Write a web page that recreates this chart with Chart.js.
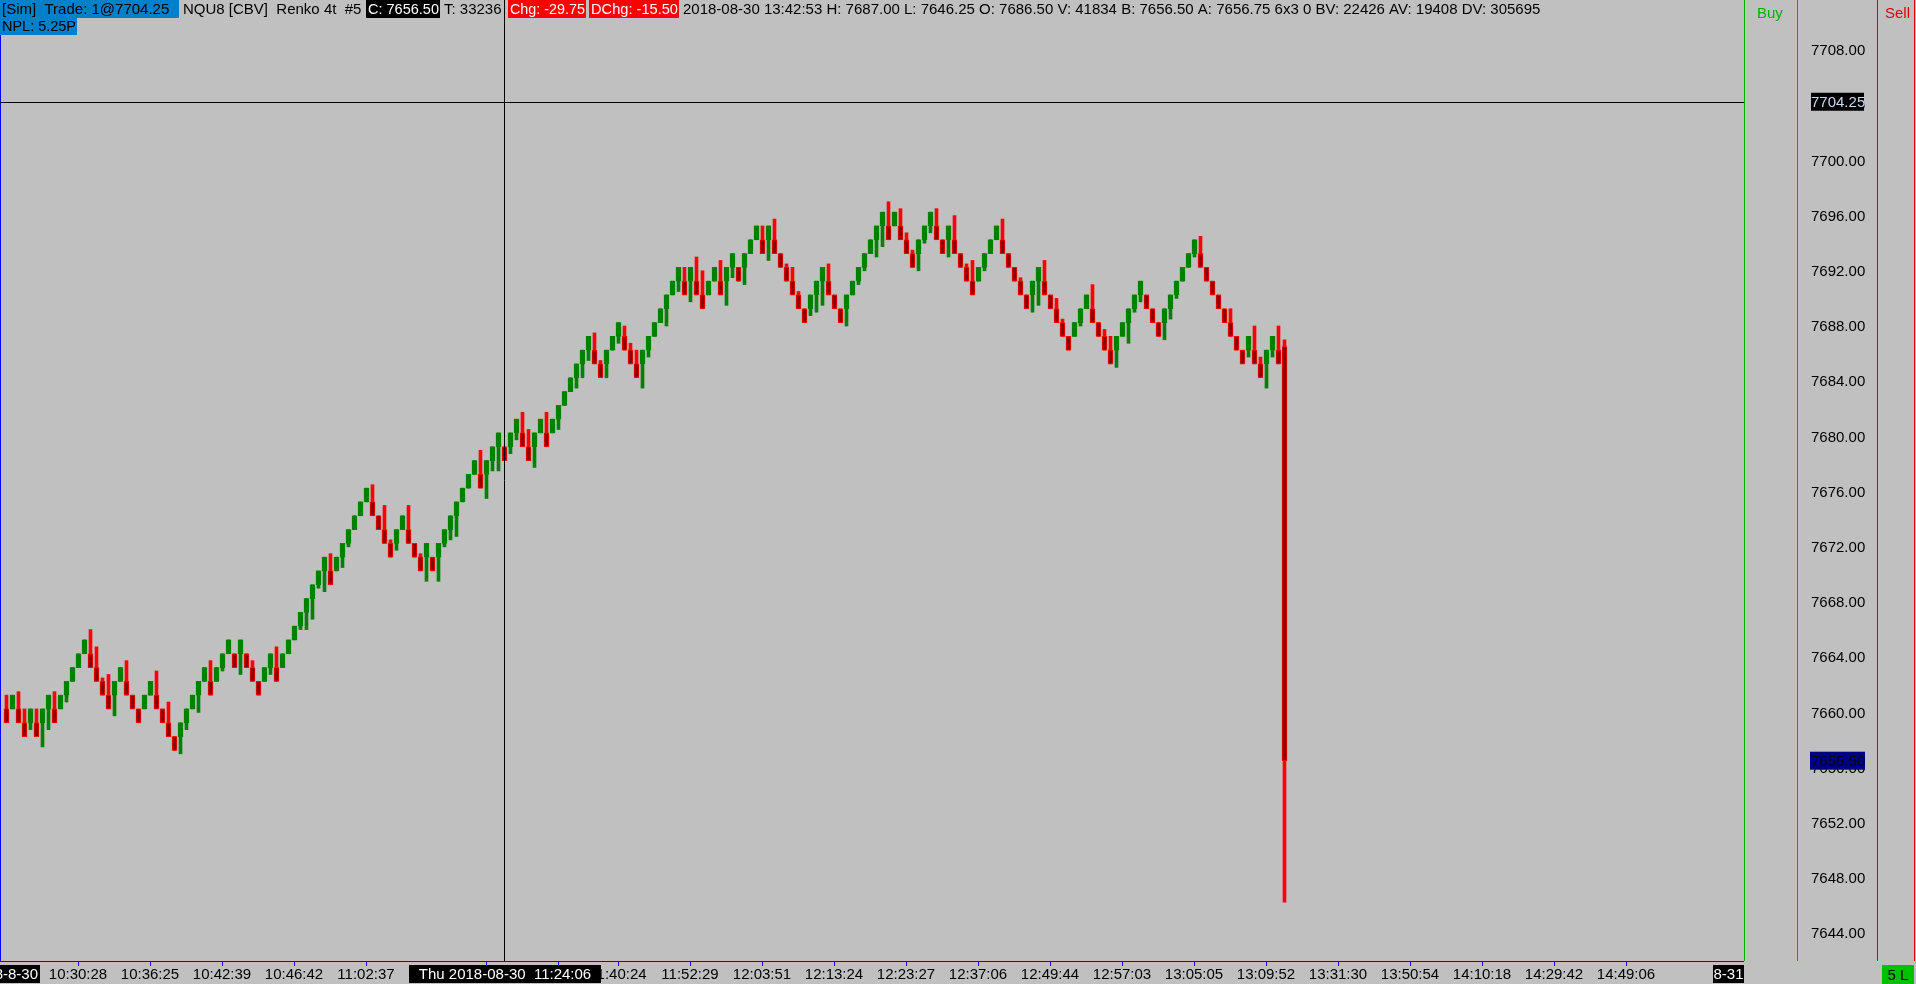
<!DOCTYPE html>
<html>
<head>
<meta charset="utf-8">
<title>NQU8 Renko 4t</title>
<script src="https://cdn.jsdelivr.net/npm/chart.js@4"></script>
<style>
  html, body { margin: 0; padding: 0; background: #c0c0c0; overflow: hidden; }
  canvas { display: block; }
</style>
</head>
<body>
<canvas id="myChart" width="1916" height="984"></canvas>
<script>
"use strict";

// Renko 4t bricks (oldest first)
const opens = [
  7660.25, 7660.25, 7660.25, 7659.25, 7659.25, 7659.25, 7659.25, 7660.25, 7660.25, 7660.25,
  7661.25, 7662.25, 7663.25, 7664.25, 7664.25, 7663.25, 7662.25, 7661.25, 7661.25, 7662.25,
  7662.25, 7661.25, 7660.25, 7660.25, 7661.25, 7661.25, 7660.25, 7659.25, 7658.25, 7658.25,
  7659.25, 7660.25, 7661.25, 7662.25, 7662.25, 7662.25, 7663.25, 7664.25, 7664.25, 7664.25,
  7664.25, 7663.25, 7662.25, 7662.25, 7663.25, 7663.25, 7663.25, 7664.25, 7665.25, 7666.25,
  7667.25, 7668.25, 7669.25, 7670.25, 7670.25, 7670.25, 7671.25, 7672.25, 7673.25, 7674.25,
  7675.25, 7675.25, 7674.25, 7673.25, 7672.25, 7672.25, 7673.25, 7673.25, 7672.25, 7671.25,
  7671.25, 7671.25, 7671.25, 7672.25, 7673.25, 7674.25, 7675.25, 7676.25, 7677.25, 7677.25,
  7677.25, 7678.25, 7679.25, 7679.25, 7679.25, 7680.25, 7680.25, 7679.25, 7679.25, 7680.25,
  7680.25, 7680.25, 7681.25, 7682.25, 7683.25, 7684.25, 7685.25, 7686.25, 7686.25, 7685.25,
  7685.25, 7686.25, 7687.25, 7687.25, 7686.25, 7685.25, 7685.25, 7686.25, 7687.25, 7688.25,
  7689.25, 7690.25, 7691.25, 7691.25, 7691.25, 7691.25, 7690.25, 7690.25, 7691.25, 7691.25,
  7691.25, 7692.25, 7692.25, 7692.25, 7693.25, 7694.25, 7694.25, 7694.25, 7694.25, 7693.25,
  7692.25, 7691.25, 7690.25, 7689.25, 7689.25, 7690.25, 7691.25, 7691.25, 7690.25, 7689.25,
  7689.25, 7690.25, 7691.25, 7692.25, 7693.25, 7694.25, 7695.25, 7695.25, 7695.25, 7695.25,
  7694.25, 7693.25, 7693.25, 7694.25, 7695.25, 7695.25, 7694.25, 7694.25, 7694.25, 7693.25,
  7692.25, 7691.25, 7691.25, 7692.25, 7693.25, 7694.25, 7694.25, 7693.25, 7692.25, 7691.25,
  7690.25, 7690.25, 7691.25, 7691.25, 7690.25, 7689.25, 7688.25, 7687.25, 7687.25, 7688.25,
  7689.25, 7689.25, 7688.25, 7687.25, 7686.25, 7686.25, 7687.25, 7688.25, 7689.25, 7690.25,
  7690.25, 7689.25, 7688.25, 7688.25, 7689.25, 7690.25, 7691.25, 7692.25, 7693.25, 7693.25,
  7692.25, 7691.25, 7690.25, 7689.25, 7688.25, 7687.25, 7686.25, 7686.25, 7686.25, 7685.25,
  7685.25, 7686.25, 7686.25, 7686.50
];
const closes = [
  7659.25, 7661.25, 7659.25, 7658.25, 7660.25, 7658.25, 7660.25, 7661.25, 7659.25, 7661.25,
  7662.25, 7663.25, 7664.25, 7665.25, 7663.25, 7662.25, 7661.25, 7660.25, 7662.25, 7663.25,
  7661.25, 7660.25, 7659.25, 7661.25, 7662.25, 7660.25, 7659.25, 7658.25, 7657.25, 7659.25,
  7660.25, 7661.25, 7662.25, 7663.25, 7661.25, 7663.25, 7664.25, 7665.25, 7663.25, 7665.25,
  7663.25, 7662.25, 7661.25, 7663.25, 7664.25, 7662.25, 7664.25, 7665.25, 7666.25, 7667.25,
  7668.25, 7669.25, 7670.25, 7671.25, 7669.25, 7671.25, 7672.25, 7673.25, 7674.25, 7675.25,
  7676.25, 7674.25, 7673.25, 7672.25, 7671.25, 7673.25, 7674.25, 7672.25, 7671.25, 7670.25,
  7672.25, 7670.25, 7672.25, 7673.25, 7674.25, 7675.25, 7676.25, 7677.25, 7678.25, 7676.25,
  7678.25, 7679.25, 7680.25, 7678.25, 7680.25, 7681.25, 7679.25, 7678.25, 7680.25, 7681.25,
  7679.25, 7681.25, 7682.25, 7683.25, 7684.25, 7685.25, 7686.25, 7687.25, 7685.25, 7684.25,
  7686.25, 7687.25, 7688.25, 7686.25, 7685.25, 7684.25, 7686.25, 7687.25, 7688.25, 7689.25,
  7690.25, 7691.25, 7692.25, 7690.25, 7692.25, 7690.25, 7689.25, 7691.25, 7692.25, 7690.25,
  7692.25, 7693.25, 7691.25, 7693.25, 7694.25, 7695.25, 7693.25, 7695.25, 7693.25, 7692.25,
  7691.25, 7690.25, 7689.25, 7688.25, 7690.25, 7691.25, 7692.25, 7690.25, 7689.25, 7688.25,
  7690.25, 7691.25, 7692.25, 7693.25, 7694.25, 7695.25, 7696.25, 7694.25, 7696.25, 7694.25,
  7693.25, 7692.25, 7694.25, 7695.25, 7696.25, 7694.25, 7693.25, 7695.25, 7693.25, 7692.25,
  7691.25, 7690.25, 7692.25, 7693.25, 7694.25, 7695.25, 7693.25, 7692.25, 7691.25, 7690.25,
  7689.25, 7691.25, 7692.25, 7690.25, 7689.25, 7688.25, 7687.25, 7686.25, 7688.25, 7689.25,
  7690.25, 7688.25, 7687.25, 7686.25, 7685.25, 7687.25, 7688.25, 7689.25, 7690.25, 7691.25,
  7689.25, 7688.25, 7687.25, 7689.25, 7690.25, 7691.25, 7692.25, 7693.25, 7694.25, 7692.25,
  7691.25, 7690.25, 7689.25, 7688.25, 7687.25, 7686.25, 7685.25, 7687.25, 7685.25, 7684.25,
  7686.25, 7687.25, 7685.25, 7656.50
];
const highs = [
  7661.25, 7661.25, 7661.5, 7660.25, 7660.25, 7660.25, 7660.25, 7661.25, 7661.5, 7661.25,
  7662.25, 7663.25, 7664.25, 7665.25, 7666, 7664.75, 7662.5, 7662.75, 7662.25, 7663.25,
  7663.75, 7661.25, 7660.25, 7661.25, 7662.25, 7663, 7660.25, 7660.75, 7658.25, 7659.25,
  7660.25, 7661.25, 7662.25, 7663.25, 7663.75, 7663.25, 7664.25, 7665.25, 7664.25, 7665.25,
  7664.25, 7663.75, 7662.25, 7663.25, 7664.25, 7664.75, 7664.25, 7665.25, 7666.25, 7667.25,
  7668.25, 7669.25, 7670.25, 7671.25, 7671.5, 7671.25, 7672.25, 7673.25, 7674.25, 7675.25,
  7676.25, 7676.5, 7674.25, 7675, 7672.5, 7673.25, 7674.25, 7675, 7672.25, 7671.5,
  7672.25, 7671.25, 7672.25, 7673.25, 7674.25, 7675.25, 7676.25, 7677.25, 7678.25, 7679,
  7678.25, 7679.25, 7680.25, 7679.25, 7680.25, 7681.25, 7681.75, 7680.5, 7680.25, 7681.25,
  7681.75, 7681.25, 7682.25, 7683.25, 7684.25, 7685.25, 7686.25, 7687.25, 7687.5, 7685.5,
  7686.25, 7687.25, 7688.25, 7688, 7686.75, 7686.25, 7686.25, 7687.25, 7688.25, 7689.25,
  7690.25, 7691.25, 7692.25, 7692.25, 7692.25, 7693, 7692, 7691.25, 7692.25, 7692.75,
  7692.25, 7693.25, 7692.25, 7693.25, 7694.25, 7695.25, 7695.25, 7695.25, 7695.75, 7693.25,
  7692.5, 7692.25, 7690.5, 7689.25, 7690.25, 7691.25, 7692.25, 7692.5, 7690.25, 7689.25,
  7690.25, 7691.25, 7692.25, 7693.25, 7694.25, 7695.25, 7696.25, 7697, 7696.25, 7696.5,
  7694.75, 7693.5, 7694.25, 7695.25, 7696.25, 7696.5, 7694.25, 7695.25, 7696, 7693.25,
  7692.5, 7692.75, 7692.25, 7693.25, 7694.25, 7695.25, 7695.75, 7693.25, 7692.25, 7691.5,
  7690.25, 7691.25, 7692.25, 7692.75, 7690.25, 7690, 7688.5, 7687.25, 7688.25, 7689.25,
  7690.25, 7691, 7688.25, 7687.75, 7687.25, 7687.25, 7688.25, 7689.25, 7690.25, 7691.25,
  7690.25, 7689.25, 7688.25, 7689.25, 7690.25, 7691.25, 7692.25, 7693.25, 7694.25, 7694.5,
  7692.25, 7691.25, 7690.25, 7689.25, 7689.25, 7687.25, 7686.25, 7687.25, 7688, 7685.75,
  7686.25, 7687.25, 7688, 7687
];
const lows = [
  7659.25, 7660.25, 7659.25, 7658.25, 7658.75, 7658.25, 7657.5, 7658.75, 7659.25, 7660.25,
  7660.75, 7662.25, 7663.25, 7664.25, 7663.25, 7662.25, 7661.25, 7660.25, 7659.75, 7662.25,
  7661.25, 7660.25, 7659.25, 7660.25, 7661.25, 7660.25, 7659.25, 7658.25, 7657.25, 7657,
  7658.75, 7660.25, 7660, 7662.25, 7661.25, 7662.25, 7663, 7664.25, 7663.25, 7662.75,
  7663.25, 7662.25, 7661.25, 7662.25, 7662.75, 7662.25, 7663.25, 7664.25, 7665.25, 7666,
  7666, 7666.75, 7669, 7668.75, 7669.25, 7670.25, 7670.5, 7672, 7673.25, 7674.25,
  7675.25, 7674.25, 7673.25, 7672.25, 7671.25, 7671.75, 7673.25, 7672.25, 7671.25, 7670.25,
  7669.5, 7670.25, 7669.5, 7672, 7672.5, 7672.75, 7675.25, 7676.25, 7677.25, 7676.25,
  7675.5, 7677.5, 7677.5, 7678.25, 7678.75, 7679.75, 7679.25, 7678.25, 7677.75, 7680.25,
  7679.25, 7680.25, 7680.5, 7682.25, 7683.25, 7683.5, 7684.25, 7685.5, 7685.25, 7684.25,
  7684.25, 7686.25, 7686.75, 7686.25, 7685.25, 7684.25, 7683.5, 7685.75, 7687.25, 7688.25,
  7688, 7690.25, 7690.5, 7690.25, 7689.75, 7690.25, 7689.25, 7690.25, 7691.25, 7690.25,
  7689.5, 7691.5, 7691.25, 7691, 7693.25, 7694.25, 7693.25, 7692.75, 7693.25, 7692.25,
  7691.25, 7690.25, 7689.25, 7688.25, 7688.75, 7689, 7689.5, 7690.25, 7689.25, 7688.25,
  7688, 7690.25, 7691, 7692, 7693.25, 7693, 7693.75, 7694.25, 7695.25, 7694.25,
  7693.25, 7692.25, 7692, 7694, 7694.75, 7694.25, 7693.25, 7693, 7693.25, 7692.25,
  7691.25, 7690.25, 7691.25, 7692, 7693.25, 7694.25, 7693.25, 7692.25, 7691.25, 7690.25,
  7689.25, 7689, 7689.5, 7690.25, 7689.25, 7688.25, 7687.25, 7686.25, 7687.25, 7688,
  7689.25, 7688.25, 7687.25, 7686.25, 7685.25, 7685, 7687.25, 7686.75, 7689, 7689.75,
  7689.25, 7688.25, 7687.25, 7687, 7688.5, 7690, 7691.25, 7692.25, 7693, 7692.25,
  7691.25, 7690.25, 7689.25, 7688.25, 7687.25, 7686.25, 7685.25, 7685.75, 7685.25, 7684.25,
  7683.5, 7685.75, 7685.25, 7646.25
];

// time axis labels and the bar they sit under
const timeLabels = ['10:30:28', '10:36:25', '10:42:39', '10:46:42', '11:02:37', '', '',
  '11:40:24', '11:52:29', '12:03:51', '12:13:24', '12:23:27', '12:37:06', '12:49:44',
  '12:57:03', '13:05:05', '13:09:52', '13:31:30', '13:50:54', '14:10:18', '14:29:42', '14:49:06'];
const timeBars = [12, 24, 36, 48, 60, 80, 92, 102, 114, 126, 138, 150, 162, 174, 186, 198,
  210, 222, 234, 246, 258, 270];

// price axis
const priceTicks = [7708, 7704, 7700, 7696, 7692, 7688, 7684, 7680, 7676, 7672, 7668,
  7664, 7660, 7656, 7652, 7648, 7644];
const crossPrice = 7704.25;
const crossBar = 83;
const lastPrice = 7656.50;

const GREEN = '#008000';
const RED = '#ff0000';
const DARKRED = '#8b0000';
const FONT = '15px "Liberation Sans", Arial, sans-serif';

const isUp = opens.map((o, i) => closes[i] > o);

const overlay = {
  id: 'overlay',
  afterDraw(chart) {
    const ctx = chart.ctx;
    const xs = chart.scales.x;
    const ys = chart.scales.y;
    const area = chart.chartArea;
    ctx.save();
    ctx.font = FONT;
    ctx.textBaseline = 'middle';

    // left blue edge + bottom blue axis
    ctx.fillStyle = '#0000ff';
    ctx.fillRect(0, 0, 1, area.bottom);
    ctx.fillRect(0, area.bottom, area.right, 1);

    // time ticks and labels
    timeBars.forEach((b, k) => {
      const x = Math.floor(xs.getPixelForValue(b));
      ctx.fillStyle = '#0000ff';
      ctx.fillRect(x, area.bottom + 1, 1, 4);
      ctx.fillStyle = '#000';
      ctx.textAlign = 'center';
      if (timeLabels[k]) ctx.fillText(timeLabels[k], x, area.bottom + 14);
    });

    // crosshair
    const cx = Math.floor(xs.getPixelForValue(crossBar)) + 0.5;
    const cy = Math.round(ys.getPixelForValue(crossPrice)) + 0.5;
    ctx.strokeStyle = '#000';
    ctx.lineWidth = 1;
    ctx.beginPath();
    ctx.moveTo(area.left, cy); ctx.lineTo(area.right, cy);
    ctx.moveTo(cx, 0); ctx.lineTo(cx, area.bottom);
    ctx.stroke();

    // boxes on the time axis
    const box = (txt, x, y, w, h, bg, fg, align) => {
      ctx.fillStyle = bg;
      ctx.fillRect(x, y, w, h);
      ctx.fillStyle = fg;
      ctx.textAlign = align || 'center';
      const tx = align === 'right' ? x + w - 2 : (align === 'left' ? x + 3 : x + w / 2);
      ctx.fillText(txt, tx, y + h / 2 + 1);
    };
    ctx.save();
    ctx.beginPath();
    ctx.rect(0, area.bottom + 4, 40, 18);
    ctx.clip();
    box('2018-8-30', -60, area.bottom + 4, 100, 18, '#000', '#fff', 'right');
    ctx.restore();
    const tw = 192;
    box('Thu 2018-08-30  11:24:06', Math.round(cx - tw / 2), area.bottom + 4, tw, 18, '#000', '#fff');
    box('8-31', area.right - 31, area.bottom + 4, 31, 18, '#000', '#fff');

    // right panel columns
    ctx.fillStyle = '#00b000';
    ctx.fillRect(Math.round(area.right), 0, 1, area.bottom);
    ctx.fillRect(1797, 0, 1, area.bottom);
    ctx.fillStyle = '#e00000';
    ctx.fillRect(1877, 0, 1, area.bottom);
    ctx.fillRect(1914, 0, 1, area.bottom);
    ctx.textAlign = 'left';
    ctx.fillStyle = '#00b000';
    ctx.fillText('Buy', 1757, 14);
    ctx.fillStyle = '#e00000';
    ctx.fillText('Sell', 1885, 14);

    // price labels
    ctx.fillStyle = '#000';
    priceTicks.forEach(p => {
      ctx.fillText(p.toFixed(2), 1811, ys.getPixelForValue(p) + 1);
    });
    const py = ys.getPixelForValue(crossPrice);
    ctx.fillStyle = '#000';
    ctx.fillRect(1811, py - 9, 53, 18);
    ctx.fillStyle = '#c8d8f0';
    ctx.fillText(crossPrice.toFixed(2), 1811, py + 1);
    const ly = ys.getPixelForValue(lastPrice);
    ctx.fillStyle = '#000080';
    ctx.fillRect(1810, ly - 9, 55, 18);
    ctx.fillStyle = '#000020';
    ctx.fillText(lastPrice.toFixed(2), 1811, ly + 1);

    // position box
    box('5 L', 1882, area.bottom + 4, 32, 19, '#00c000', '#000');

    // header
    const seg = (txt, x, y, bg, fg, w) => {
      if (bg) { ctx.fillStyle = bg; ctx.fillRect(x, y - 9, w, 18); }
      ctx.fillStyle = fg;
      ctx.textAlign = 'left';
      if (w) ctx.fillText(txt, x + 2, y + 1, w - 3);
      else ctx.fillText(txt, x + 2, y + 1);
    };
    seg('[Sim]  Trade: 1@7704.25', 0, 9, '#0080c8', '#000', 179);
    seg('NQU8 [CBV]  Renko 4t  #5', 181, 9, null, '#000');
    seg('C: 7656.50', 366, 9, '#000', '#fff', 74);
    seg('T: 33236', 442, 9, null, '#000');
    seg('Chg: -29.75', 508, 9, '#ff0000', '#fff', 78);
    seg('DChg: -15.50', 589, 9, '#ff0000', '#fff', 90);
    seg('2018-08-30 13:42:53 H: 7687.00 L: 7646.25 O: 7686.50 V: 41834 B: 7656.50 A: 7656.75 6x3 0 BV: 22426 AV: 19408 DV: 305695', 681, 9, null, '#000');
    seg('NPL: 5.25P', 0, 26, '#0080c8', '#000', 77);
    ctx.restore();
  }
};

const ctx = document.querySelector('#myChart').getContext('2d');

const data = {
  datasets: [
    {
      label: 'body',
      data: opens.map((o, i) => ({ x: i, y: [o, closes[i]] })),
      backgroundColor: isUp.map(u => u ? GREEN : DARKRED),
      borderColor: isUp.map(u => u ? GREEN : RED),
      borderWidth: 1,
      borderSkipped: false,
      barThickness: 5,
      grouped: false,
      order: 0,
    },
    {
      label: 'wick',
      data: lows.map((l, i) => ({ x: i, y: [l, highs[i]] })),
      backgroundColor: isUp.map(u => u ? GREEN : RED),
      borderWidth: 0,
      barThickness: 3,
      grouped: false,
      order: 1,
    },
  ]
};

const config = {
  type: 'bar',
  data: data,
  options: {
    responsive: false,
    animation: false,
    layout: { padding: { left: 0, right: 172, top: 0, bottom: 23 } },
    plugins: {
      legend: { display: false },
      tooltip: { enabled: false },
    },
    scales: {
      x: { type: 'linear', min: -1.0833, max: 289.583, offset: false, display: false },
      y: { min: 7641.986, max: 7711.623, display: false },
    },
  },
  plugins: [overlay],
};

const myChart = new Chart(ctx, config);
</script>
</body>
</html>
